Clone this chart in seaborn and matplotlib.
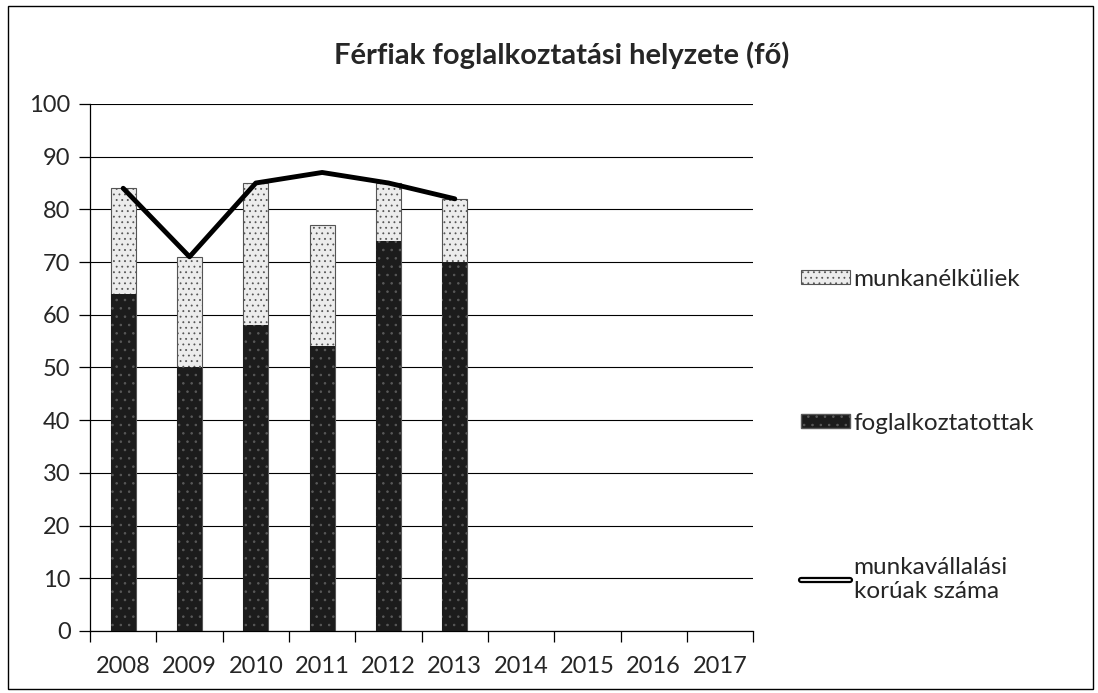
from matplotlib import pyplot as plt
from matplotlib.patches import Patch, Rectangle
from matplotlib.lines import Line2D
import seaborn as sns
import pandas as pd

years = ["2008", "2009", "2010", "2011", "2012", "2013",
         "2014", "2015", "2016", "2017"]
data_years = ["2008", "2009", "2010", "2011", "2012", "2013"]
foglalkoztatottak = [64, 50, 58, 54, 74, 70]
munkanelkuliek = [20, 21, 27, 23, 11, 12]
koruak = [84, 71, 85, 87, 85, 82]

df = pd.DataFrame({
    "ev": data_years,
    "fogl": foglalkoztatottak,
    "munk": munkanelkuliek,
    "kor": koruak,
})
df["ossz"] = df.fogl + df.munk

sns.set_style("white")
plt.rcParams["font.family"] = ["Lato", "DejaVu Sans"]
plt.rcParams["hatch.linewidth"] = 0.6

fig = plt.figure(figsize=(10.98, 6.93), dpi=100)
ax = fig.add_axes([0.082, 0.0895, 0.604, 0.7605])

# stacked bars: total first (light), employed drawn over it (dark)
sns.barplot(data=df, x="ev", y="ossz", order=years, ax=ax, width=0.38,
            color="#ececec", edgecolor="#555555", hatch="...",
            linewidth=0.8, saturation=1, zorder=2)
sns.barplot(data=df, x="ev", y="fogl", order=years, ax=ax, width=0.38,
            color="#1c1c1c", edgecolor="#5a5a5a", hatch="..",
            linewidth=0, saturation=1, zorder=3)

pos = [years.index(y) for y in df.ev]
sns.lineplot(x=pos, y=df.kor, ax=ax, color="black", lw=3.5, zorder=4)

ax.set_xlim(-0.5, 9.5)
ax.set_ylim(0, 100)
ax.set_yticks(range(0, 101, 10))
ax.yaxis.grid(True, color="black", lw=0.8)
ax.set_axisbelow(True)
ax.set_xlabel("")
ax.set_ylabel("")
for s in ["top", "right"]:
    ax.spines[s].set_visible(False)
for s in ["left", "bottom"]:
    ax.spines[s].set_color("black")
    ax.spines[s].set_linewidth(0.9)

ax.set_xticks([i - 0.5 for i in range(11)], minor=True)
ax.tick_params(axis="x", which="major", bottom=True, length=0, pad=18,
               labelsize=17)
ax.tick_params(axis="x", which="minor", bottom=True, length=8, width=0.9,
               color="black", direction="out")
ax.tick_params(axis="y", which="major", left=True, length=8, width=0.9,
               color="black", direction="out", pad=6, labelsize=17)

fig.text(0.512, 0.92, "Férfiak foglalkoztatási helyzete (fő)",
         ha="center", va="center", fontsize=21, fontweight="bold")

handles = [
    Patch(facecolor="#ececec", edgecolor="#555555", hatch="...", lw=0.8),
    Patch(facecolor="#1c1c1c", edgecolor="#5a5a5a", hatch=".."),
    (Line2D([], [], color="black", lw=4.5),
     Line2D([], [], color="white", lw=1.3)),
]
labels = ["munkanélküliek", "foglalkoztatottak",
          "munkavállalási\nkorúak száma"]
fig.legend(handles, labels, loc="upper left",
           bbox_to_anchor=(0.71, 0.644), frameon=False, fontsize=17.5,
           labelspacing=5.06, handlelength=2.0, handleheight=0.55,
           handletextpad=0.15)

fig.patches.append(Rectangle((0.007, 0.006), 0.988, 0.986,
                             transform=fig.transFigure, fill=False,
                             edgecolor="black", lw=1))

plt.savefig("out.png", dpi=100)
